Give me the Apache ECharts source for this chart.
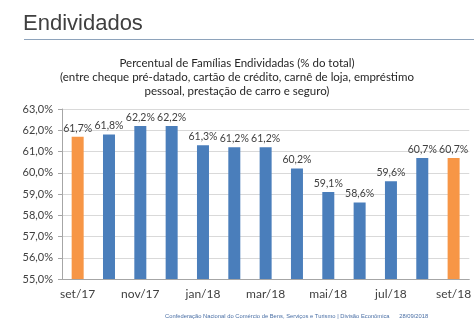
<!DOCTYPE html>
<html><head><meta charset="utf-8">
<script src="https://cdn.jsdelivr.net/npm/echarts@6/dist/echarts.min.js"></script>
<style>html,body{margin:0;padding:0;background:#fff}#c{width:474px;height:322px}</style>
</head><body><div id="c"></div>
<script>
const categories = ['set/17','out/17','nov/17','dez/17','jan/18','fev/18','mar/18','abr/18','mai/18','jun/18','jul/18','ago/18','set/18'];
const values = [61.7,61.8,62.2,62.2,61.3,61.2,61.2,60.2,59.1,58.6,59.6,60.7,60.7];
const highlighted = ['set/17','set/18'];
const pageTitle = 'Endividados';
const chartTitleLines = ['Percentual de Famílias Endividadas (% do total)','(entre cheque pré-datado, cartão de crédito, carnê de loja, empréstimo','pessoal, prestação de carro e seguro)'];
const footer = 'Confederação Nacional do Comércio de Bens, Serviços e Turismo | Divisão Econômica      28/09/2018';

const fmt = v => v.toFixed(1).replace('.', ',') + '%';
const chart = echarts.init(document.getElementById('c'), null, {renderer:'canvas'});
chart.setOption({
  animation:false,
  graphic:[
    {type:'text',x:23,y:35,style:{text:pageTitle,font:'22px Liberation Sans',fill:'#404040',textVerticalAlign:'bottom',textBaseline:'alphabetic'}},
    {type:'line',shape:{x1:24,y1:39.5,x2:474,y2:39.5},style:{stroke:'#8ea3bb',lineWidth:1}},
    {type:'text',x:237,y:63,style:{text:chartTitleLines[0],font:'11.5px Lato',fill:'#262626',align:'center',verticalAlign:'middle'}},
    {type:'text',x:237,y:77,style:{text:chartTitleLines[1],font:'11.5px Lato',fill:'#262626',align:'center',verticalAlign:'middle'}},
    {type:'text',x:237,y:91,style:{text:chartTitleLines[2],font:'11.5px Lato',fill:'#262626',align:'center',verticalAlign:'middle'}},
    {type:'text',x:165,y:316,style:{text:footer,font:'5.8px Liberation Sans',fill:'#4a6fa5',verticalAlign:'middle'}}
  ],
  grid:{left:62,right:0,top:109,height:170},
  xAxis:{type:'category',data:categories,
    axisLine:{lineStyle:{color:'#a6a6a6'}},
    axisTick:{interval:1,length:4,lineStyle:{color:'#a6a6a6'}},
    axisLabel:{interval:1,color:'#404040',fontFamily:'Lato',fontSize:12,margin:9}},
  yAxis:{type:'value',min:55,max:63,interval:1,
    axisLine:{show:true,lineStyle:{color:'#a6a6a6'}},
    axisTick:{show:true,length:4,lineStyle:{color:'#a6a6a6'}},
    splitLine:{lineStyle:{color:'#d9d9d9'}},
    axisLabel:{formatter:v=>fmt(v),color:'#404040',fontFamily:'Lato',fontSize:11,margin:9}},
  series:[{type:'bar',barWidth:12,
    data:values.map((v,i)=>({value:v,itemStyle:{color:highlighted.includes(categories[i])?'#f79646':'#4a7ebb'}})),
    label:{show:true,position:'top',distance:3,formatter:p=>fmt(p.value),color:'#404040',fontFamily:'Lato',fontSize:10.5}
  }]
});
</script></body></html>
